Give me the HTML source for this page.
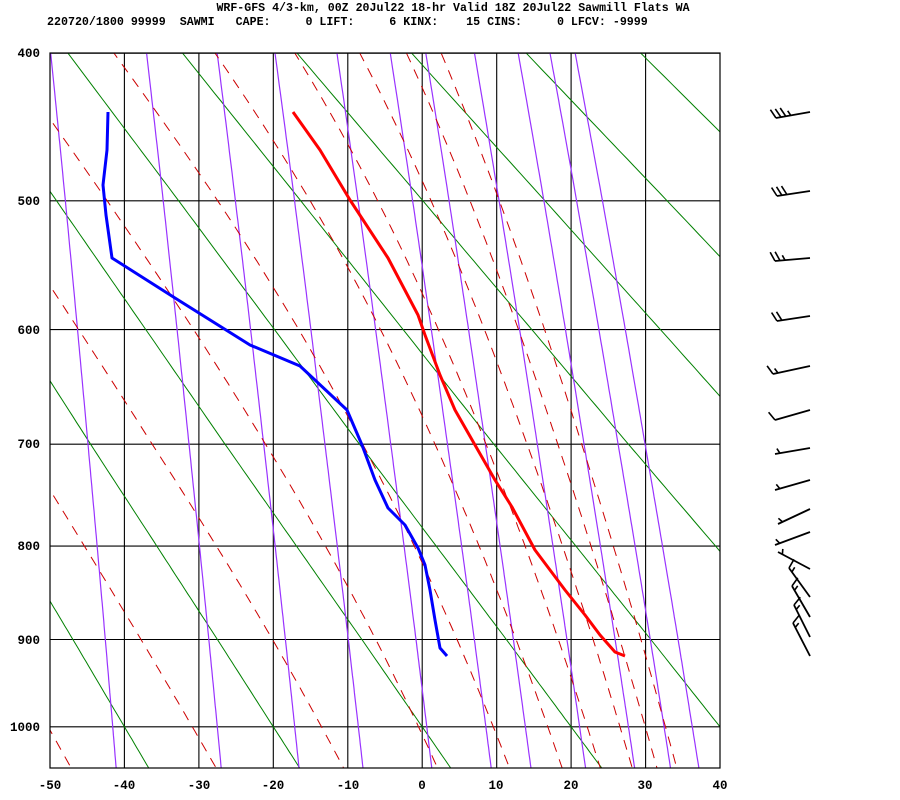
<!DOCTYPE html>
<html><head><meta charset="utf-8"><style>
html,body{margin:0;padding:0;background:#fff;}
svg{display:block;}
text{font-family:"Liberation Mono",monospace;font-weight:bold;fill:#000;}
</style></head><body>
<svg id="s" width="900" height="800" xmlns="http://www.w3.org/2000/svg">
<defs><clipPath id="c"><rect x="50" y="53" width="670" height="715"/></clipPath></defs>
<rect width="900" height="800" fill="#fff"/>
<text x="453" y="11" font-size="11.6" text-anchor="middle">WRF-GFS 4/3-km, 00Z 20Jul22 18-hr Valid 18Z 20Jul22 Sawmill Flats WA</text>
<text x="47" y="25" font-size="11.65" xml:space="preserve">220720/1800 99999  SAWMI   CAPE:     0 LIFT:     6 KINX:    15 CINS:     0 LFCV: -9999</text>
<g font-size="12.5" text-anchor="end">
<text x="40" y="57">400</text><text x="40" y="205">500</text><text x="40" y="334">600</text>
<text x="40" y="448">700</text><text x="40" y="550">800</text><text x="40" y="644">900</text>
<text x="40" y="731">1000</text>
</g>
<g font-size="12.5" text-anchor="middle">
<text x="50" y="789">-50</text><text x="124" y="789">-40</text><text x="199" y="789">-30</text>
<text x="273" y="789">-20</text><text x="348" y="789">-10</text><text x="422" y="789">0</text>
<text x="496" y="789">10</text><text x="571" y="789">20</text><text x="645" y="789">30</text>
<text x="720" y="789">40</text>
</g>
<g id="plot" clip-path="url(#c)"></g>
<g id="top"></g>
<rect x="50" y="53" width="670" height="715" fill="none" stroke="#000" stroke-width="1.2"/>
</svg>
<script>
var K=[[400,53.2],[500,200.8],[600,329.6],[700,444.2],[800,546.1],[900,639.5],[1000,726.8]];
function P(p){return Math.pow(p,0.286);}
function Y(p){var q=P(p),i;for(i=0;i<K.length-2;i++){if(p<=K[i+1][0])break;}
var a=K[i],b=K[i+1];return a[1]+(q-P(a[0]))/(P(b[0])-P(a[0]))*(b[1]-a[1]);}
function X(t){return 50+(t+50)*670/90;}
var NS="http://www.w3.org/2000/svg";
var plot=document.getElementById('plot'),top_=document.getElementById('top');
function path(g,pts,st,w,dash){var e=document.createElementNS(NS,'path');
e.setAttribute('d','M'+pts.map(function(p){return p[0].toFixed(1)+','+p[1].toFixed(1)}).join('L'));
e.setAttribute('fill','none');e.setAttribute('stroke',st);e.setAttribute('stroke-width',w);
if(dash)e.setAttribute('stroke-dasharray',dash);e.setAttribute('stroke-linejoin','round');g.appendChild(e);}
for(var p=400;p<=1000;p+=100){path(plot,[[50,Y(p)],[720,Y(p)]],'#000',1.1);}
for(var t=-40;t<=30;t+=10){path(plot,[[X(t),53],[X(t),768]],'#000',1.1);}
var ps=[];for(var p=380;p<=1070;p+=5)ps.push(p);
for(var th=-40;th<=200;th+=20){path(plot,ps.map(function(p){return [X((th+273.15)*Math.pow(p/1000,0.286)-273.15),Y(p)]}),'#008000',1);}
function es(t){return 6.112*Math.exp(17.67*t/(t+243.5));}
[0.1,0.4,1,2,4,7,10,16,24,32,40].forEach(function(w){
path(plot,ps.map(function(p){var e=w*p/(622+w);var l=Math.log(e/6.112);var t=243.5*l/(17.67-l);return [X(t),Y(p)]}),'#9933ff',1.2);});
function the(t,p){var T=t+273.15,e=es(t),ws=0.622*e/(p-e);return T*Math.pow(1000/p,0.286)*Math.exp(2.5e6*ws/(1004*T));}
[223,243,263,282,302,322,341,361,380,398].forEach(function(te){var pts=[];ps.forEach(function(p){var lo=-120,hi=60;
for(var k=0;k<40;k++){var m=(lo+hi)/2;if(the(m,p)>te)hi=m;else lo=m;}pts.push([X(lo),Y(p)]);});
path(plot,pts,'#cc0000',1,'10,8');});
var T=[[293,112],[320,150],[350,200],[388,258],[418,315],[425,335],[440,375],[455,410],[475,445],[495,480],[512,507],[535,550],[565,590],[585,615],[600,635],[615,652],[625,656]];
var D=[[108,112],[107,150],[103,185],[106,215],[112,258],[175,298],[250,345],[300,366],[347,410],[362,445],[375,480],[388,508],[405,525],[418,548],[425,565],[430,590],[435,620],[440,648],[447,656]];
path(plot,T,'#ff0000',3);path(plot,D,'#0000ff',3);
var B=[[112,776,118,3,1],[191,777,196,3,0],[258,775,261,2,1],[316,777,321,2,0],[366,773,374,1,1],[410,775,420,1,0],
[448,775,454,0,1],[480,775,490,0,1],[509,778,524,0,1],[532,775,545,0,1],[569,778,552,0,1],
[597,789,568,1,1],[617,792,586,1,1],[637,794,605,1,1],[656,793,623,1,1]];
B.forEach(function(b){var sx=810,sy=b[0],ex=b[1],ey=b[2];path(top_,[[sx,sy],[ex,ey]],'#000',1.8);
var dx=ex-sx,dy=ey-sy,L=Math.hypot(dx,dy),ux=dx/L,uy=dy/L;var a=Math.atan2(uy,ux)+1.15;
var bx=Math.cos(a),by=Math.sin(a),pos=0;
for(var i=0;i<b[3];i++){var px=ex-ux*pos,py=ey-uy*pos;path(top_,[[px,py],[px+bx*10,py+by*10]],'#000',1.6);pos+=5;}
for(var i=0;i<b[4];i++){if(pos==0)pos=5;var px=ex-ux*pos,py=ey-uy*pos;path(top_,[[px,py],[px+bx*5.5,py+by*5.5]],'#000',1.6);pos+=5;}
});
</script>
</body></html>
